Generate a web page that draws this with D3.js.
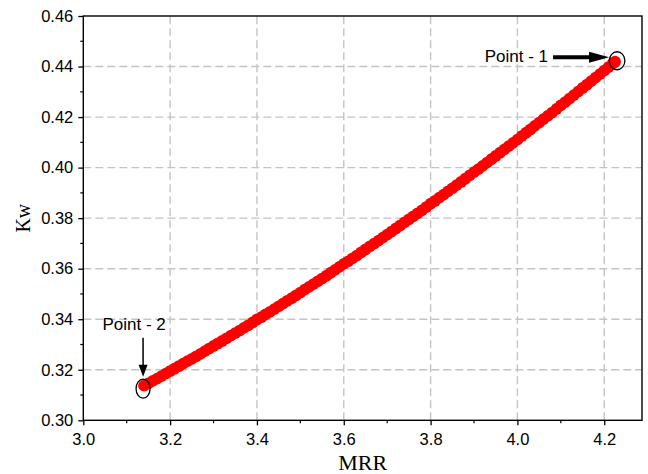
<!DOCTYPE html>
<html>
<head>
<meta charset="utf-8">
<script src="https://cdn.jsdelivr.net/npm/d3@7"></script>
<style>
  html, body { margin: 0; padding: 0; background: #fff; }
  svg { display: block; }
  .tick-label { font-family: "Liberation Sans", Arial, sans-serif; font-size: 16.5px; fill: #000; }
  .note { font-family: "Liberation Sans", Arial, sans-serif; font-size: 17px; fill: #000; }
  .axis-title { font-family: "Liberation Serif", "Times New Roman", serif; fill: #000; }
</style>
</head>
<body>
<div id="chart"></div>
<script>

// MRR values.
var mrr = [
  3.14, 3.15, 3.16, 3.17, 3.18, 3.19, 3.20, 3.21, 3.22, 3.23, 3.24, 3.25,
  3.26, 3.27, 3.28, 3.29, 3.30, 3.31, 3.32, 3.33, 3.34, 3.35, 3.36, 3.37,
  3.38, 3.39, 3.40, 3.41, 3.42, 3.43, 3.44, 3.45, 3.46, 3.47, 3.48, 3.49,
  3.50, 3.51, 3.52, 3.53, 3.54, 3.55, 3.56, 3.57, 3.58, 3.59, 3.60, 3.61,
  3.62, 3.63, 3.64, 3.65, 3.66, 3.67, 3.68, 3.69, 3.70, 3.71, 3.72, 3.73,
  3.74, 3.75, 3.76, 3.77, 3.78, 3.79, 3.80, 3.81, 3.82, 3.83, 3.84, 3.85,
  3.86, 3.87, 3.88, 3.89, 3.90, 3.91, 3.92, 3.93, 3.94, 3.95, 3.96, 3.97,
  3.98, 3.99, 4.00, 4.01, 4.02, 4.03, 4.04, 4.05, 4.06, 4.07, 4.08, 4.09,
  4.10, 4.11, 4.12, 4.13, 4.14, 4.15, 4.16, 4.17, 4.18, 4.19, 4.20, 4.21,
  4.22, 4.225
];

// Kw values for each MRR.
var kw = [
  0.3137, 0.3146, 0.3156, 0.3165, 0.3175, 0.3185, 0.3195, 0.3204, 0.3214,
  0.3224, 0.3234, 0.3243, 0.3253, 0.3263, 0.3274, 0.3284, 0.3294, 0.3304,
  0.3314, 0.3324, 0.3335, 0.3345, 0.3355, 0.3366, 0.3376, 0.3387, 0.3399,
  0.3408, 0.3419, 0.3429, 0.3440, 0.3451, 0.3462, 0.3473, 0.3483, 0.3494,
  0.3505, 0.3517, 0.3528, 0.3539, 0.3550, 0.3561, 0.3572, 0.3584, 0.3595,
  0.3607, 0.3619, 0.3629, 0.3641, 0.3652, 0.3664, 0.3676, 0.3688, 0.3699,
  0.3711, 0.3723, 0.3735, 0.3747, 0.3759, 0.3771, 0.3783, 0.3795, 0.3807,
  0.3819, 0.3831, 0.3844, 0.3857, 0.3868, 0.3881, 0.3893, 0.3906, 0.3918,
  0.3931, 0.3943, 0.3956, 0.3969, 0.3982, 0.3994, 0.4007, 0.4020, 0.4033,
  0.4046, 0.4059, 0.4072, 0.4085, 0.4098, 0.4111, 0.4125, 0.4138, 0.4151,
  0.4165, 0.4178, 0.4192, 0.4205, 0.4218, 0.4232, 0.4246, 0.4259, 0.4273,
  0.4287, 0.4301, 0.4315, 0.4328, 0.4342, 0.4356, 0.4370, 0.4384, 0.4398,
  0.4413, 0.4419
];

var xTicks = [3.0, 3.2, 3.4, 3.6, 3.8, 4.0, 4.2];
var yTicks = [0.30, 0.32, 0.34, 0.36, 0.38, 0.40, 0.42, 0.44, 0.46];
var xMinor = [3.1, 3.3, 3.5, 3.7, 3.9, 4.1];
var yMinor = [0.31, 0.33, 0.35, 0.37, 0.39, 0.41, 0.43, 0.45];

var W = 648, H = 474;
var margin = { left: 83.3, right: 6, top: 16, bottom: 53.7 };

var svg = d3.select('#chart').append('svg')
  .attr('width', W).attr('height', H);

var x = d3.scaleLinear().domain([3.0, 4.287])
  .range([margin.left, W - margin.right]);
var y = d3.scaleLinear().domain([0.30, 0.46])
  .range([H - margin.bottom, margin.top]);

var x0 = x.range()[0], x1 = x.range()[1];
var y0 = y.range()[0], y1 = y.range()[1];


/**
 * Dashed grid at the inner major ticks.
 */
var grid = svg.append('g')
  .attr('stroke', '#c4c4c4')
  .attr('stroke-width', 1.4)
  .attr('stroke-dasharray', '8,4');

grid.selectAll('line.gx').data(xTicks.slice(1)).enter().append('line')
  .attr('x1', x).attr('x2', x).attr('y1', y0).attr('y2', y1);

grid.selectAll('line.gy').data(yTicks.slice(1, -1)).enter().append('line')
  .attr('y1', y).attr('y2', y).attr('x1', x0).attr('x2', x1);


/**
 * Axes: ticks and labels.
 */
var xAxis = d3.axisBottom(x).tickValues(xTicks).tickSize(5)
  .tickFormat(d3.format('.1f'));
var yAxis = d3.axisLeft(y).tickValues(yTicks).tickSize(5)
  .tickFormat(d3.format('.2f'));

var gx = svg.append('g').attr('transform', 'translate(0,' + y0 + ')')
  .call(xAxis);
var gy = svg.append('g').attr('transform', 'translate(' + x0 + ',0)')
  .call(yAxis);

[gx, gy].forEach(function(g) {
  g.select('.domain').remove();
  g.selectAll('.tick line').attr('stroke', '#000').attr('stroke-width', 1.3);
  g.selectAll('.tick text').attr('class', 'tick-label')
    .attr('font-size', null).attr('font-family', null);
});
gx.selectAll('.tick text').attr('dy', '0.71em').attr('y', 13);
gy.selectAll('.tick text').attr('x', -10);

// Minor ticks.
svg.append('g').selectAll('line').data(xMinor).enter().append('line')
  .attr('x1', x).attr('x2', x).attr('y1', y0).attr('y2', y0 + 3)
  .attr('stroke', '#000').attr('stroke-width', 1.2);
svg.append('g').selectAll('line').data(yMinor).enter().append('line')
  .attr('y1', y).attr('y2', y).attr('x1', x0).attr('x2', x0 - 3)
  .attr('stroke', '#000').attr('stroke-width', 1.2);

// Frame.
svg.append('rect')
  .attr('x', x0).attr('y', y1)
  .attr('width', x1 - x0).attr('height', y0 - y1)
  .attr('fill', 'none').attr('stroke', '#000').attr('stroke-width', 1.4);


/**
 * The red markers.
 */
svg.append('g').selectAll('circle').data(mrr).enter().append('circle')
  .attr('cx', function(d) { return x(d); })
  .attr('cy', function(d, i) { return y(kw[i]); })
  .attr('r', 5.9)
  .attr('fill', '#ff0000');


/**
 * Point annotations.
 */
var last = mrr.length - 1;
var p1 = [x(mrr[last]), y(kw[last])];
var p2 = [x(mrr[0]), y(kw[0])];

svg.append('ellipse')
  .attr('cx', p1[0] + 2).attr('cy', p1[1] - 1).attr('rx', 7.8).attr('ry', 9)
  .attr('fill', 'none').attr('stroke', '#000').attr('stroke-width', 1.3);
svg.append('ellipse')
  .attr('cx', p2[0] - 1).attr('cy', p2[1] + 3).attr('rx', 7).attr('ry', 9.5)
  .attr('fill', 'none').attr('stroke', '#000').attr('stroke-width', 1.3);

// Point - 1: thick arrow from the left.
var a1y = p1[1] - 4.5, a1tip = p1[0] - 6;
svg.append('line')
  .attr('x1', a1tip - 56).attr('x2', a1tip - 14)
  .attr('y1', a1y).attr('y2', a1y)
  .attr('stroke', '#000').attr('stroke-width', 4);
svg.append('path')
  .attr('d', 'M' + a1tip + ',' + a1y + 'L' + (a1tip - 20) + ',' + (a1y - 5.5) +
    'L' + (a1tip - 20) + ',' + (a1y + 5.5) + 'Z')
  .attr('fill', '#000');
svg.append('text').attr('class', 'note')
  .attr('x', a1tip - 61).attr('y', p1[1] + 0.5)
  .attr('text-anchor', 'end').text('Point - 1');

// Point - 2: thin arrow from above.
var a2x = p2[0] - 1, a2tip = p2[1] - 9;
svg.append('line')
  .attr('x1', a2x).attr('x2', a2x)
  .attr('y1', a2tip - 39).attr('y2', a2tip - 8)
  .attr('stroke', '#000').attr('stroke-width', 1.5);
svg.append('path')
  .attr('d', 'M' + a2x + ',' + a2tip + 'L' + (a2x - 4.5) + ',' + (a2tip - 12) +
    'L' + (a2x + 4.5) + ',' + (a2tip - 12) + 'Z')
  .attr('fill', '#000');
svg.append('text').attr('class', 'note')
  .attr('x', a2x - 9).attr('y', a2tip - 47)
  .attr('text-anchor', 'middle').text('Point - 2');


/**
 * Axis titles.
 */
svg.append('text').attr('class', 'axis-title')
  .attr('x', (x0 + x1) / 2).attr('y', 470)
  .attr('text-anchor', 'middle').attr('font-size', 22)
  .text('MRR');

svg.append('text').attr('class', 'axis-title')
  .attr('transform', 'translate(30,' + ((y0 + y1) / 2) + ') rotate(-90)')
  .attr('text-anchor', 'middle').attr('font-size', 20)
  .text('Kw');

</script>
</body>
</html>
